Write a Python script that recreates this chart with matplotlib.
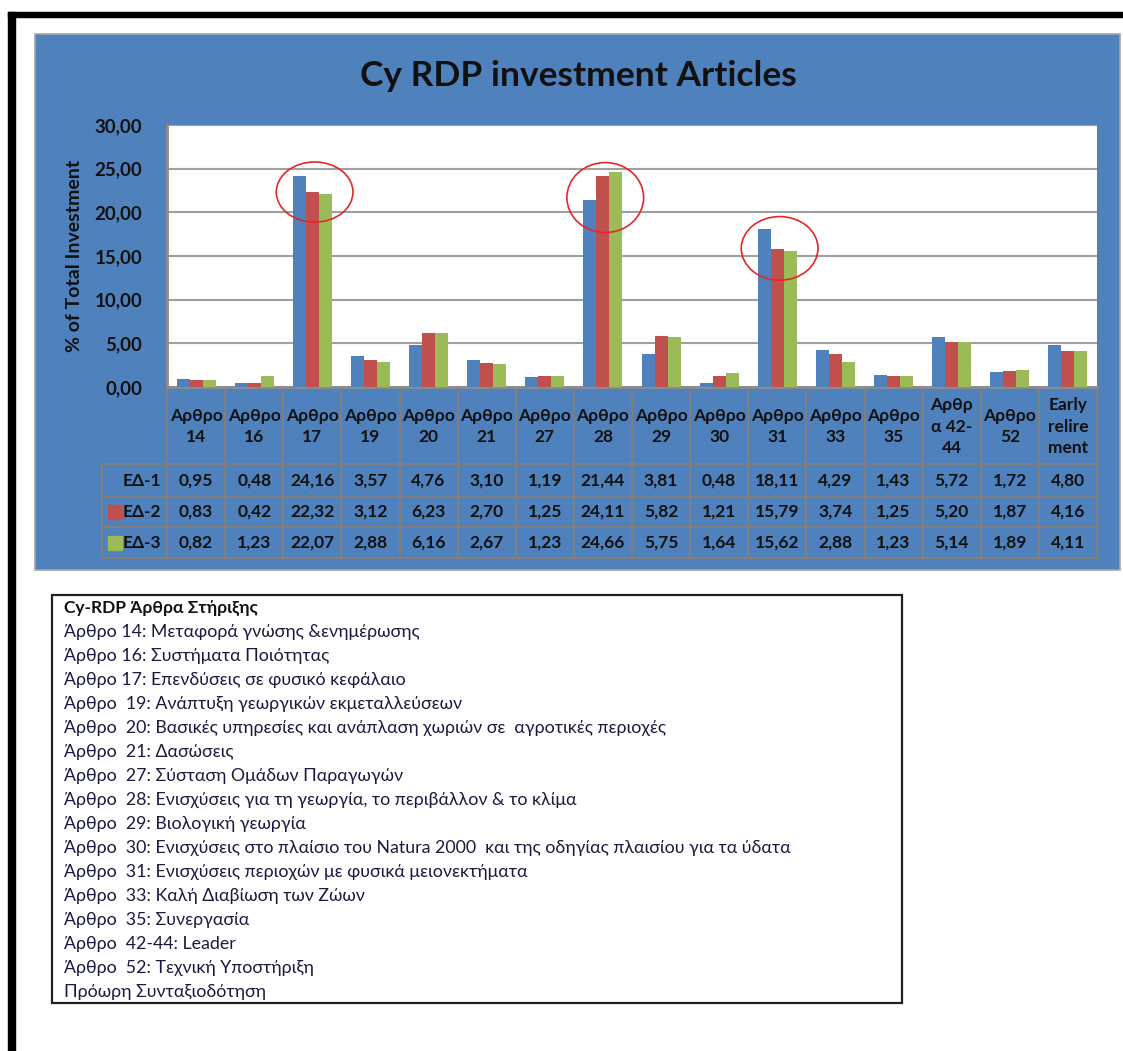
import matplotlib.pyplot as plt
from matplotlib.patches import Rectangle, Ellipse
import numpy as np

# data
categories = ["Αρθρο\n14", "Αρθρο\n16", "Αρθρο\n17", "Αρθρο\n19", "Αρθρο\n20", "Αρθρο\n21",
              "Αρθρο\n27", "Αρθρο\n28", "Αρθρο\n29", "Αρθρο\n30", "Αρθρο\n31", "Αρθρο\n33",
              "Αρθρο\n35", "Αρθρ\nα 42-\n44", "Αρθρο\n52", "Early\nrelire\nment"]
series_names = ["ΕΔ-1", "ΕΔ-2", "ΕΔ-3"]
ed1 = [0.95, 0.48, 24.16, 3.57, 4.76, 3.10, 1.19, 21.44, 3.81, 0.48, 18.11, 4.29, 1.43, 5.72, 1.72, 4.80]
ed2 = [0.83, 0.42, 22.32, 3.12, 6.23, 2.70, 1.25, 24.11, 5.82, 1.21, 15.79, 3.74, 1.25, 5.20, 1.87, 4.16]
ed3 = [0.82, 1.23, 22.07, 2.88, 6.16, 2.67, 1.23, 24.66, 5.75, 1.64, 15.62, 2.88, 1.23, 5.14, 1.89, 4.11]
colors = ["#4F81BD", "#C0504D", "#9BBB59"]
yticks = [0, 5, 10, 15, 20, 25, 30]
highlight = [2, 7, 10]   # circled articles

legend_title = "Cy-RDP Άρθρα Στήριξης"
legend_lines = [
    "Άρθρο 14: Μεταφορά γνώσης &ενημέρωσης",
    "Άρθρο 16: Συστήματα Ποιότητας",
    "Άρθρο 17: Επενδύσεις σε φυσικό κεφάλαιο",
    "Άρθρο  19: Ανάπτυξη γεωργικών εκμεταλλεύσεων",
    "Άρθρο  20: Βασικές υπηρεσίες και ανάπλαση χωριών σε  αγροτικές περιοχές",
    "Άρθρο  21: Δασώσεις",
    "Άρθρο  27: Σύσταση Ομάδων Παραγωγών",
    "Άρθρο  28: Ενισχύσεις για τη γεωργία, το περιβάλλον & το κλίμα",
    "Άρθρο  29: Βιολογική γεωργία",
    "Άρθρο  30: Ενισχύσεις στο πλαίσιο του Natura 2000  και της οδηγίας πλαισίου για τα ύδατα",
    "Άρθρο  31: Ενισχύσεις περιοχών με φυσικά μειονεκτήματα",
    "Άρθρο  33: Καλή Διαβίωση των Ζώων",
    "Άρθρο  35: Συνεργασία",
    "Άρθρο  42-44: Leader",
    "Άρθρο  52: Τεχνική Υποστήριξη",
    "Πρόωρη Συνταξιοδότηση",
]

plt.rcParams['font.family'] = ['Lato', 'Noto Sans', 'DejaVu Sans']

W, H = 1123, 1051
fig = plt.figure(figsize=(W / 100, H / 100), dpi=100)
fig.patch.set_facecolor("white")


def px_axes(x0, y0, x1, y1, **kw):
    return fig.add_axes([x0 / W, 1 - y1 / H, (x1 - x0) / W, (y1 - y0) / H], **kw)


# overlay in pixel coordinates for frame, table and text box
bg = px_axes(0, 0, W, H, zorder=0)
bg.set_xlim(0, W)
bg.set_ylim(H, 0)
bg.axis("off")

# page border lines
bg.add_patch(Rectangle((8, 12), W - 8, 5, color="black"))
bg.add_patch(Rectangle((8, 12), 7, H - 12, color="black"))

# blue chart frame
bg.add_patch(Rectangle((35, 34), 1085, 536, facecolor="#4F81BD", edgecolor="#A6A6A6", lw=1.2))
bg.text(578, 76, "Cy RDP investment Articles", ha="center", va="center",
        fontsize=25.5, fontweight="bold", color="#111111")

# main bar chart
ax_l, ax_t, ax_r, ax_b = 167, 125, 1097, 387
ax = px_axes(ax_l, ax_t, ax_r, ax_b, zorder=1)
n = len(categories)
x = np.arange(n)
bw = 0.224
for k, vals in enumerate([ed1, ed2, ed3]):
    ax.bar(x + (k - 1) * bw, vals, width=bw, color=colors[k], zorder=3)
ax.set_xlim(-0.5, n - 0.5)
ax.set_ylim(0, 30)
ax.set_yticks(yticks)
ax.set_yticklabels([f"{t:.2f}".replace(".", ",") for t in yticks],
                   fontsize=13.5, fontweight="bold", color="#111111")
ax.set_xticks([])
ax.tick_params(axis="y", length=0, pad=18)
ax.yaxis.grid(True, color="#A0A0A0", lw=1.5, zorder=0)
ax.set_axisbelow(True)
for s in ["top", "right"]:
    ax.spines[s].set_visible(False)
for s in ["left", "bottom"]:
    ax.spines[s].set_color("#8C8C8C")
    ax.spines[s].set_linewidth(2)
ax.set_ylabel("% of Total Investment", fontsize=14, fontweight="bold",
              color="#111111", labelpad=8)

# red circles around the large articles
for i in highlight:
    top = max(ed1[i], ed2[i], ed3[i])
    low = min(ed1[i], ed2[i], ed3[i])
    ax.add_patch(Ellipse((i + 0.04, low + 0.25), 1.32, (top - low) + 4.8,
                         fill=False, edgecolor="#E5262A", lw=1.2, clip_on=False, zorder=5))

# data table under the chart
colw = (ax_r - ax_l) / n
row_edges = [387, 464, 497, 527, 558]
label_l = 102
gc = "#7F7F7F"
for i in range(n + 1):
    xe = ax_l + i * colw
    bg.plot([xe, xe], [row_edges[0], row_edges[-1]], color=gc, lw=1.5)
bg.plot([label_l, label_l], [row_edges[1], row_edges[-1]], color=gc, lw=1.5)
for yv in row_edges[1:]:
    bg.plot([label_l, ax_r], [yv, yv], color=gc, lw=1.5)

for i, c in enumerate(categories):
    bg.text(ax_l + (i + 0.5) * colw, (row_edges[0] + row_edges[1]) / 2 + 1, c,
            ha="center", va="center", fontsize=12.5, fontweight="bold",
            color="#111111", linespacing=1.45)

for r, (name, vals) in enumerate(zip(series_names, [ed1, ed2, ed3])):
    yc = (row_edges[r + 1] + row_edges[r + 2]) / 2
    bg.add_patch(Rectangle((108, yc - 7), 14, 14, color=colors[r]))
    bg.text(161, yc, name, ha="right", va="center", fontsize=12.5,
            fontweight="bold", color="#111111")
    for i, v in enumerate(vals):
        bg.text(ax_l + (i + 0.5) * colw, yc, f"{v:.2f}".replace(".", ","),
                ha="center", va="center", fontsize=12.5, fontweight="bold", color="#111111")

# explanation box
bg.add_patch(Rectangle((52, 595), 850, 408, fill=False, edgecolor="#222222", lw=1.6))
bg.text(64, 608, legend_title, ha="left", va="center", fontsize=12.5,
        fontweight="bold", color="#111111")
for j, line in enumerate(legend_lines):
    bg.text(64, 632.5 + j * 24.0, line, ha="left", va="center", fontsize=12.8,
            color="#1A1A40")

fig.savefig("out.png", dpi=100)
